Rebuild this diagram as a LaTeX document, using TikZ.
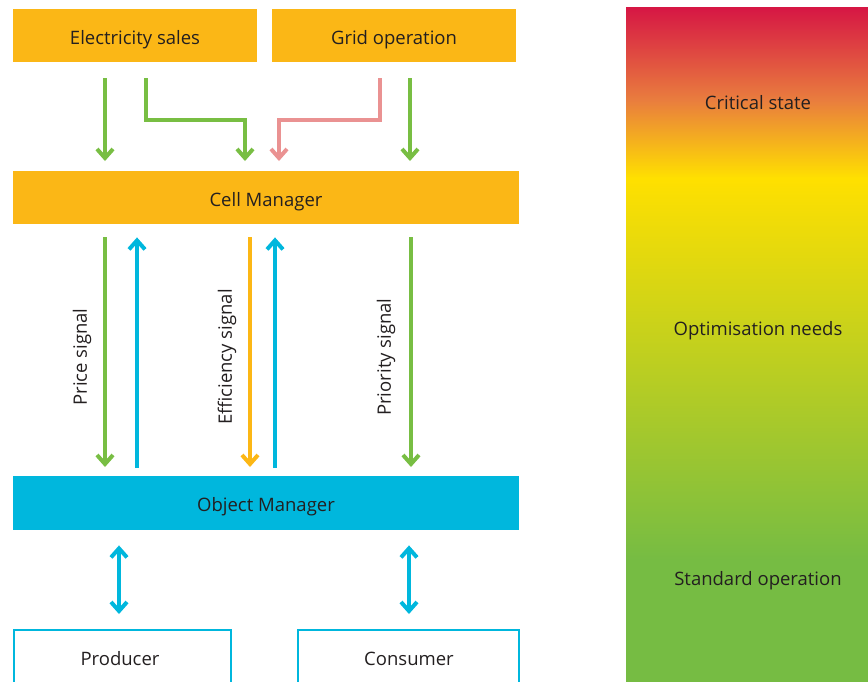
\documentclass[tikz,border=0pt]{standalone}
\usepackage{fontspec}
\setmainfont{Open Sans}
\usetikzlibrary{arrows.meta}

\definecolor{boxorange}{RGB}{251,183,22}
\definecolor{omblue}{RGB}{0,183,221}
\definecolor{sgreen}{RGB}{120,190,67}
\definecolor{sred}{RGB}{234,146,146}
\definecolor{sorange}{RGB}{252,183,21}
\definecolor{txt}{RGB}{35,31,32}
\definecolor{barred}{RGB}{214,22,68}
\definecolor{barorange}{RGB}{233,125,62}
\definecolor{baryellow}{RGB}{255,224,0}
\definecolor{bargreen}{RGB}{118,188,67}

% state scale: green (bottom) -> yellow -> orange -> red (top)
\pgfdeclareverticalshading{statebar}{100bp}{%
  color(0bp)=(bargreen); color(34bp)=(bargreen);
  color(62.3bp)=(baryellow); color(68.1bp)=(barorange);
  color(75bp)=(barred); color(100bp)=(barred)}

\tikzset{
  lbl/.style={text=txt, font=\fontsize{18.5}{21}\selectfont},
  obox/.style={fill=boxorange, inner sep=0pt, anchor=north west},
  bbox/.style={fill=omblue, inner sep=0pt, anchor=north west},
  wbox/.style={draw=omblue, line width=2.2pt, fill=white, inner sep=0pt, anchor=north west},
  tipd/.style={-{Straight Barb[length=9pt,width=16pt]}},
  sig/.style={line width=4pt, tipd},
  both/.style={line width=4pt, {Straight Barb[length=9pt,width=16pt]}-{Straight Barb[length=9pt,width=16pt]}, omblue},
}

\begin{document}
\begin{tikzpicture}[x=1pt, y=-1pt]
\useasboundingbox (0,0) rectangle (868,681);

% boxes
\node[obox, minimum width=244pt, minimum height=53pt] (es) at (13,9) {};
\node[obox, minimum width=244pt, minimum height=53pt] (go) at (272,9) {};
\node[obox, minimum width=506pt, minimum height=53pt] (cm) at (13,171) {};
\node[bbox, minimum width=506pt, minimum height=54pt] (om) at (13,476) {};
\node[wbox, minimum width=217pt, minimum height=56pt] (pr) at (13,629) {};
\node[wbox, minimum width=221pt, minimum height=56pt] (co) at (297,629) {};

% box texts
\node[lbl] (est) at (135,40) {Electricity sales};
\node[lbl] (got) at (394,40) {Grid operation};
\node[lbl] (cmt) at (266,202) {Cell Manager};
\node[lbl] (omt) at (266,507) {Object Manager};
\node[lbl] (prt) at (120,659) {Producer};
\node[lbl] (cot) at (409,659) {Consumer};

% inputs to the cell manager
\draw[sig, sgreen, shorten <=16pt, shorten >=10pt] (105,0 |- es.south) -- (105,0 |- cm.north);
\draw[sig, sgreen, shorten <=16pt, shorten >=10pt] (146,0 |- es.south) |- (245,120) -- (245,0 |- cm.north);
\draw[sig, sred, shorten <=16pt, shorten >=10pt] (380,0 |- go.south) |- (279,120) -- (279,0 |- cm.north);
\draw[sig, sgreen, shorten <=16pt, shorten >=10pt] (410,0 |- go.south) -- (410,0 |- cm.north);

% signals between cell manager and object manager
\draw[sig, sgreen, shorten <=13pt, shorten >=9pt] (105,0 |- cm.south) -- (105,0 |- om.north);
\draw[sig, omblue, shorten <=8pt, shorten >=13pt] (137,0 |- om.north) -- (137,0 |- cm.south);
\draw[sig, sorange, shorten <=13pt, shorten >=9pt] (250,0 |- cm.south) -- (250,0 |- om.north);
\draw[sig, omblue, shorten <=8pt, shorten >=13pt] (275,0 |- om.north) -- (275,0 |- cm.south);
\draw[sig, sgreen, shorten <=13pt, shorten >=9pt] (411,0 |- cm.south) -- (411,0 |- om.north);

\node[lbl, rotate=90] (ps) at (82,357) {Price signal};
\node[lbl, rotate=90] (efs) at (227,357) {Efficiency signal};
\node[lbl, rotate=90] (pys) at (386,357) {Priority signal};

% object manager to producer / consumer
\draw[both, shorten <=15pt, shorten >=15pt] (119,0 |- om.south) -- (119,0 |- pr.north);
\draw[both, shorten <=15pt, shorten >=15pt] (409,0 |- om.south) -- (409,0 |- co.north);

% state scale
\shade[shading=statebar] (626,7) rectangle (868,681);
\node[lbl] (cs) at (758,103) {Critical state};
\node[lbl] (on) at (758,331) {Optimisation needs};
\node[lbl] (so) at (758,581) {Standard operation};
\end{tikzpicture}
\end{document}
